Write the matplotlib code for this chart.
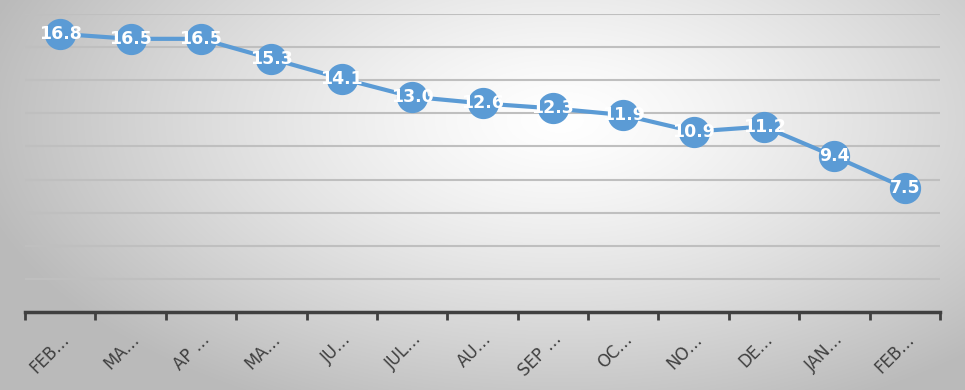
import matplotlib.pyplot as plt
import numpy as np

months = ['FEB…', 'MA…', 'AP …', 'MA…', 'JU…', 'JUL…', 'AU…',
          'SEP …', 'OC…', 'NO…', 'DE…', 'JAN…', 'FEB…']
values = [16.8, 16.5, 16.5, 15.3, 14.1, 13.0, 12.6, 12.3, 11.9, 10.9, 11.2, 9.4, 7.5]

blue = '#5B9BD5'

fig = plt.figure(figsize=(9.65, 3.9), dpi=100)

# radial gradient background
bg = fig.add_axes([0, 0, 1, 1], zorder=-1)
yy, xx = np.mgrid[0:390, 0:965]
r = np.sqrt(((xx - 560) / 600.0) ** 2 + ((yy - 120) / 320.0) ** 2)
r = np.clip(r, 0, 1)
shade = 1.0 - 0.27 * r ** 1.3
bg.imshow(np.dstack([shade, shade, shade]), aspect='auto', extent=[0, 1, 0, 1])
bg.axis('off')

ax = fig.add_axes([25 / 965, 1 - 312 / 390, 915 / 965, 298 / 390])
ax.patch.set_alpha(0)
x = np.arange(len(values))
ax.plot(x, values, color=blue, lw=3, marker='o', ms=21.5, mfc=blue, mec=blue, zorder=3)
for xi, v in zip(x, values):
    ax.text(xi, v, f'{v:.1f}', color='white', fontsize=12.5, fontweight='bold',
            ha='center', va='center', zorder=4)

ax.set_xlim(-0.5, len(values) - 0.5)
ax.set_ylim(0, 18)
ax.set_yticks(np.arange(0, 19, 2))
ax.yaxis.grid(True, color='#BFBFBF', lw=1.5)
ax.set_axisbelow(True)
ax.tick_params(axis='y', left=False, labelleft=False)

ax.set_xticks(np.arange(-0.5, len(values), 1), minor=False)
ax.set_xticklabels([])
ax.set_xticks(x, minor=True)
ax.set_xticklabels(months, minor=True, rotation=45, ha='right', va='top',
                   rotation_mode='anchor', fontsize=12, color='#404040')
ax.tick_params(axis='x', which='major', length=6, width=2, color='#404040', direction='out')
ax.tick_params(axis='x', which='minor', length=0, pad=13)
for lbl in ax.get_xticklabels(minor=True):
    lbl.set_x(0)

for s in ['top', 'right', 'left']:
    ax.spines[s].set_visible(False)
ax.spines['bottom'].set_color('#404040')
ax.spines['bottom'].set_linewidth(2.5)

plt.savefig('out.png', dpi=100)
